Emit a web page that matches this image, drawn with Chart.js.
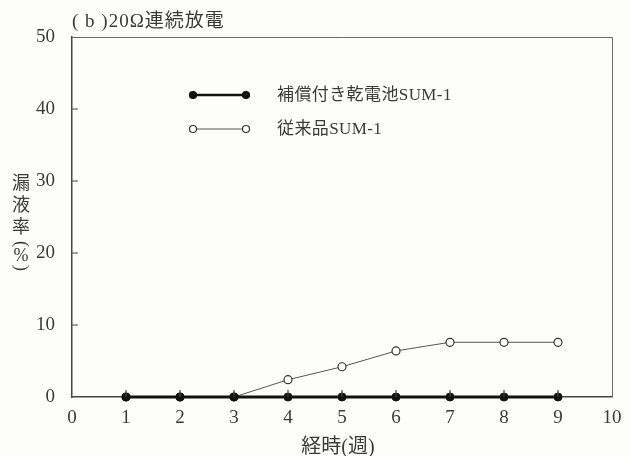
<!DOCTYPE html>
<html>
<head>
<meta charset="utf-8">
<script src="https://cdn.jsdelivr.net/npm/chart.js@4/dist/chart.umd.min.js"></script>
<style>
  html, body { margin: 0; padding: 0; background: #fdfdfb; }
  #wrap { width: 630px; height: 456px; }
</style>
</head>
<body>
<div id="wrap"><canvas id="c" width="630" height="456"></canvas></div>
<script>
// Leakage rate (%) over elapsed weeks, 20Ω continuous discharge
const weeks = [1, 2, 3, 4, 5, 6, 7, 8, 9];
const compensatedSUM1 = [0, 0, 0, 0, 0, 0, 0, 0, 0];
const conventionalSUM1 = [0, 0, 0, 2.4, 4.2, 6.4, 7.6, 7.6, 7.6];
const xTicks = [0, 1, 2, 3, 4, 5, 6, 7, 8, 9, 10];
const yTicks = [0, 10, 20, 30, 40, 50];

const seriesNames = ['補償付き乾電池SUM-1', '従来品SUM-1'];
const chartTitle = '( b )20Ω連続放電';
const xTitle = '経時(週)';
const yTitleChars = ['漏', '液', '率'];

const INK = '#3a3a3a';
const FONT = "'Liberation Serif', 'Noto Sans CJK JP', serif";

const pts = (ys) => weeks.map((w, i) => ({ x: w, y: ys[i] }));

// Frame, inward ticks, legend and titles
const decorations = {
  id: 'decorations',
  afterDraw(chart) {
    const ctx = chart.ctx;
    const { left, right, top, bottom } = chart.chartArea;
    const xs = chart.scales.x, ys = chart.scales.y;
    ctx.save();

    // top and right border
    ctx.strokeStyle = '#6a6a6a';
    ctx.lineWidth = 1;
    ctx.beginPath();
    ctx.moveTo(left, top + 0.5);
    ctx.lineTo(right + 0.5, top + 0.5);
    ctx.lineTo(right + 0.5, bottom);
    ctx.stroke();

    // inward ticks
    ctx.strokeStyle = '#444';
    ctx.lineWidth = 1.2;
    ctx.beginPath();
    yTicks.forEach(v => {
      if (v === 0 || v === 50) return;
      const y = ys.getPixelForValue(v);
      ctx.moveTo(left, y); ctx.lineTo(left + 6, y);
    });
    xTicks.forEach(v => {
      if (v === 0 || v === 10) return;
      const x = xs.getPixelForValue(v);
      ctx.moveTo(x, bottom); ctx.lineTo(x, bottom - 7);
    });
    ctx.stroke();

    // chart title
    ctx.fillStyle = INK;
    ctx.font = '19px ' + FONT;
    ctx.letterSpacing = '1px';
    ctx.textAlign = 'left';
    ctx.textBaseline = 'alphabetic';
    ctx.fillText(chartTitle, left, 27);
    ctx.letterSpacing = '0px';

    // x axis title
    ctx.textAlign = 'center';
    ctx.font = '20px ' + FONT;
    ctx.fillText(xTitle, 338, 453);

    // y axis title, stacked vertically
    ctx.font = '18px ' + FONT;
    ctx.textBaseline = 'middle';
    const cx = 21;
    yTitleChars.forEach((ch, i) => ctx.fillText(ch, cx, 184 + i * 22));
    const drawRot = (ch, y) => {
      ctx.save();
      ctx.translate(cx, y);
      ctx.rotate(Math.PI / 2);
      ctx.fillText(ch, 0, 0);
      ctx.restore();
    };
    drawRot('(', 244);
    ctx.fillText('%', cx, 256);
    drawRot(')', 268);

    // legend
    const ds = chart.data.datasets;
    const rows = [95, 129];
    ds.forEach((d, i) => {
      const y = rows[i];
      const x0 = 193, x1 = 246;
      ctx.strokeStyle = d.borderColor;
      ctx.lineWidth = i === 0 ? 2.5 : 1;
      ctx.beginPath();
      ctx.moveTo(x0, y); ctx.lineTo(x1, y);
      ctx.stroke();
      [x0, x1].forEach(x => {
        ctx.beginPath();
        ctx.arc(x, y, 3.5, 0, Math.PI * 2);
        ctx.fillStyle = d.pointBackgroundColor;
        ctx.fill();
        ctx.strokeStyle = d.pointBorderColor;
        ctx.lineWidth = 1.2;
        ctx.stroke();
      });
      ctx.fillStyle = INK;
      ctx.font = '17px ' + FONT;
      ctx.letterSpacing = '0.4px';
      ctx.textAlign = 'left';
      ctx.textBaseline = 'middle';
      ctx.fillText(d.label, 277, y + 1);
      ctx.letterSpacing = '0px';
    });

    ctx.restore();
  }
};

new Chart(document.getElementById('c'), {
  type: 'line',
  data: {
    datasets: [
      {
        label: seriesNames[0],
        data: pts(compensatedSUM1),
        borderColor: '#111',
        borderWidth: 3,
        pointRadius: 4,
        pointBackgroundColor: '#111',
        pointBorderColor: '#111',
        pointBorderWidth: 1,
        clip: false,
        order: 0
      },
      {
        label: seriesNames[1],
        data: pts(conventionalSUM1),
        borderColor: '#555',
        borderWidth: 1,
        pointRadius: 4,
        pointBackgroundColor: '#fdfdfb',
        pointBorderColor: '#333',
        pointBorderWidth: 1.2,
        clip: false,
        order: 1
      }
    ]
  },
  options: {
    responsive: false,
    animation: false,
    layout: { padding: { top: 37, right: 18, left: 0, bottom: 0 } },
    plugins: { legend: { display: false }, tooltip: { enabled: false } },
    scales: {
      x: {
        type: 'linear',
        min: 0, max: 10,
        afterBuildTicks: (s) => { s.ticks = xTicks.map(v => ({ value: v })); },
        afterFit: (s) => { s.height = 456 - 397; },
        border: { color: '#444', width: 1.5 },
        grid: { display: false },
        ticks: { color: INK, font: { family: FONT, size: 19 }, padding: 2 }
      },
      y: {
        min: 0, max: 50,
        afterBuildTicks: (s) => { s.ticks = yTicks.map(v => ({ value: v })); },
        afterFit: (s) => { s.width = 72; },
        border: { color: '#444', width: 1.5 },
        grid: { display: false },
        ticks: { color: INK, font: { family: FONT, size: 19 }, padding: 9 }
      }
    }
  },
  plugins: [decorations]
});
</script>
</body>
</html>
